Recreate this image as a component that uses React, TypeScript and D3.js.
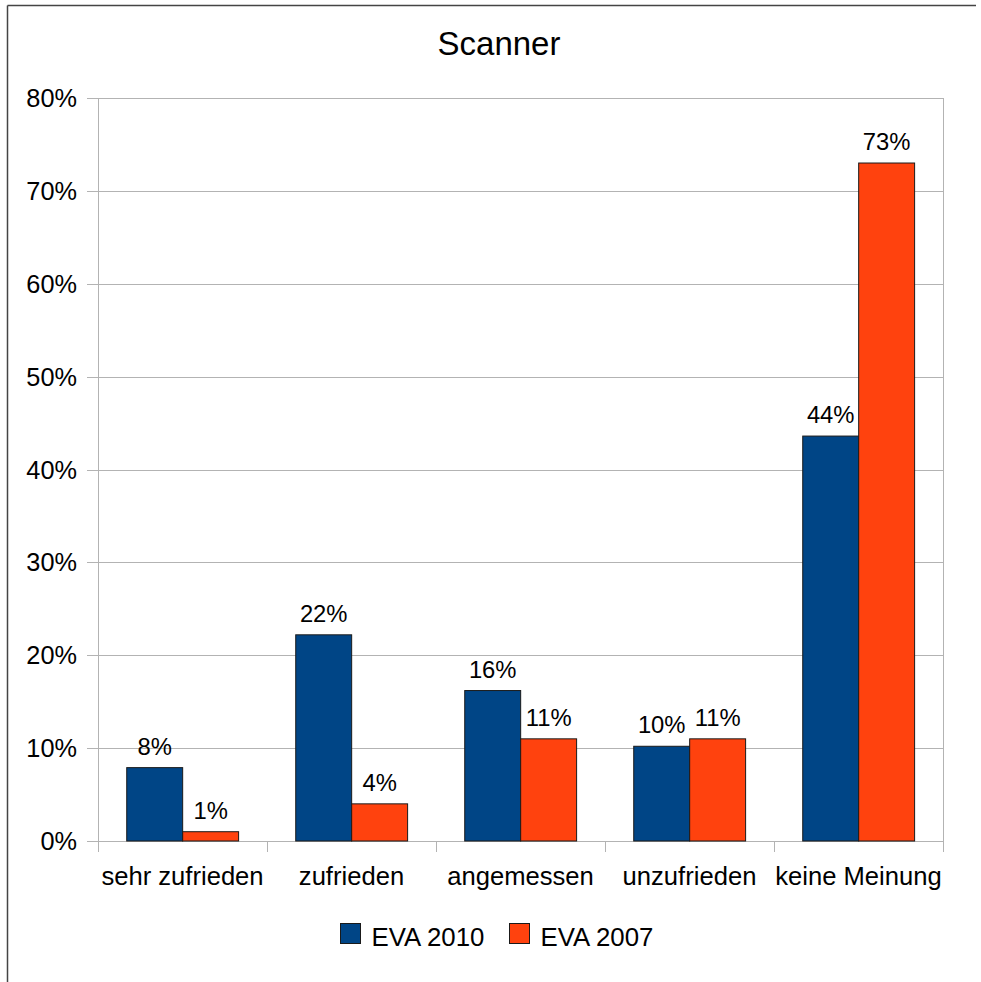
import React from "react";
import * as d3 from "d3";

const title = "Scanner";
const categories = ["sehr zufrieden", "zufrieden", "angemessen", "unzufrieden", "keine Meinung"];
const seriesNames = ["EVA 2010", "EVA 2007"];
const seriesColors = ["#004586", "#ff420e"];
const eva2010 = [7.9, 22.2, 16.2, 10.2, 43.6];
const eva2007 = [1.0, 4.0, 11.0, 11.0, 73.0];
const yTicks = [0, 10, 20, 30, 40, 50, 60, 70, 80];

const W = 981;
const H = 982;
const plot = { left: 98, right: 943, top: 98, bottom: 841 };
const FONT = "'Liberation Sans', Arial, sans-serif";

export default function App() {
  const x0 = d3.scaleBand<string>().domain(categories).range([plot.left, plot.right]).paddingInner(0).paddingOuter(0);
  const bw = x0.bandwidth();
  const x1 = d3.scaleBand<string>().domain(seriesNames).range([bw * 0.17, bw * 0.832]).padding(0);
  const y = d3.scaleLinear().domain([0, 80]).range([plot.bottom, plot.top]);
  const seriesValues = [eva2010, eva2007];
  const fmt = (v: number) => `${Math.round(v)}%`;

  return (
    <svg width={W} height={H} style={{ position: "absolute", left: 0, top: 0, background: "#fff" }} fontFamily={FONT}>
      <rect x={0} y={0} width={W} height={H} fill="#fff" />
      {/* frame */}
      <line x1={7.5} x2={976} y1={5.5} y2={5.5} stroke="#444" strokeWidth={1.5} />
      <line x1={7.5} x2={7.5} y1={5.5} y2={H} stroke="#444" strokeWidth={1.5} />
      {/* title */}
      <text x={499} y={55} textAnchor="middle" fontSize={33} fill="#000">{title}</text>
      {/* gridlines */}
      {yTicks.map((t) => (
        <g key={t}>
          <line x1={plot.left - 11} x2={plot.right} y1={Math.round(y(t)) + 0.5} y2={Math.round(y(t)) + 0.5} stroke="#b3b3b3" strokeWidth={1} />
          <text x={plot.left - 21} y={y(t) + 9} textAnchor="end" fontSize={25.3} fill="#000">{`${t}%`}</text>
        </g>
      ))}
      {/* axes */}
      <line x1={plot.left + 0.5} x2={plot.left + 0.5} y1={plot.top} y2={plot.bottom + 11} stroke="#b3b3b3" strokeWidth={1} />
      <line x1={plot.right + 0.5} x2={plot.right + 0.5} y1={plot.top} y2={plot.bottom + 11} stroke="#b3b3b3" strokeWidth={1} />
      {categories.slice(1).map((c) => (
        <line key={c} x1={Math.round(x0(c)!) + 0.5} x2={Math.round(x0(c)!) + 0.5} y1={plot.bottom} y2={plot.bottom + 11} stroke="#b3b3b3" strokeWidth={1} />
      ))}
      {/* bars */}
      {categories.map((c, i) => (
        <g key={c}>
          {seriesNames.map((s, k) => {
            const v = seriesValues[k][i];
            const bx = x0(c)! + x1(s)!;
            return (
              <g key={s}>
                <rect x={bx} y={y(v)} width={x1.bandwidth()} height={y(0) - y(v)} fill={seriesColors[k]} stroke="#1a1a1a" strokeWidth={1} />
                <text x={bx + x1.bandwidth() / 2} y={y(v) - 13} textAnchor="middle" fontSize={23.8} fill="#000">{fmt(v)}</text>
              </g>
            );
          })}
          <text x={x0(c)! + bw / 2} y={885} textAnchor="middle" fontSize={25.6} fill="#000">{c}</text>
        </g>
      ))}
      {/* legend */}
      {seriesNames.map((s, k) => {
        const lx = [340, 509][k];
        return (
          <g key={s}>
            <rect x={lx + 0.5} y={923.5} width={20} height={20} fill={seriesColors[k]} stroke="#1a1a1a" strokeWidth={1} />
            <text x={lx + 31.5} y={946} fontSize={25.8} fill="#000">{s}</text>
          </g>
        );
      })}
    </svg>
  );
}
